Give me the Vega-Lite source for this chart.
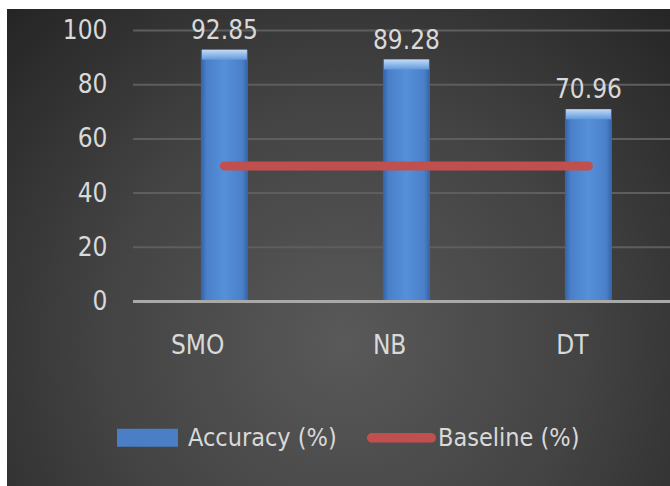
{
  "$schema": "https://vega.github.io/schema/vega-lite/v6.json",
  "autosize": {"type": "none"},
  "width": 672,
  "height": 477,
  "padding": {"left": 7, "top": 9, "right": 0, "bottom": 0},
  "background": "white",
  "config": {
    "view": {
      "stroke": null,
      "fill": {
        "gradient": "radial",
        "x1": 0.5, "y1": 0.64, "r1": 0,
        "x2": 0.5, "y2": 0.64, "r2": 0.72,
        "stops": [
          {"offset": 0, "color": "#595959"},
          {"offset": 0.5, "color": "#434343"},
          {"offset": 1, "color": "#232323"}
        ]
      }
    },
    "font": "DejaVu Sans Condensed, sans-serif",
    "axis": {"labelFont": "DejaVu Sans Condensed, sans-serif", "labelLimit": 0},
    "legend": {"labelFont": "DejaVu Sans Condensed, sans-serif", "labelLimit": 0}
  },
  "datasets": {
    "models": [
      {"model": "SMO", "accuracy": 92.85, "baseline": 50},
      {"model": "NB", "accuracy": 89.28, "baseline": 50},
      {"model": "DT", "accuracy": 70.96, "baseline": 50}
    ],
    "grid": [{"v": 20}, {"v": 40}, {"v": 60}, {"v": 80}, {"v": 100}]
  },
  "layer": [
    {
      "data": {"name": "grid"},
      "mark": {"type": "rule", "color": "#5e5e5e", "strokeWidth": 2},
      "encoding": {
        "x": {"datum": "SMO", "type": "nominal", "bandPosition": -1.445, "title": null,
              "scale": {"domain": ["SMO", "NB", "DT"], "paddingInner": 0.742, "paddingOuter": 0.717, "align": 0.743}},
        "x2": {"datum": "DT", "bandPosition": 2.6},
        "y": {"field": "v", "type": "quantitative", "title": null,
              "scale": {"domain": [-68.08, 107.93], "nice": false, "zero": false},
              "axis": {"offset": -126, "labelPadding": 26, "domain": false, "ticks": false, "grid": false,
                       "values": [0, 20, 40, 60, 80, 100], "labelFontSize": 26, "labelColor": "#d9d9d9", "title": null}}
      }
    },
    {
      "data": {"name": "models"},
      "mark": {"type": "bar"},
      "encoding": {
        "x": {"field": "model", "type": "nominal", "title": null, "sort": null,
              "scale": {"domain": ["SMO", "NB", "DT"], "paddingInner": 0.742, "paddingOuter": 0.717, "align": 0.743},
              "axis": {"offset": -141, "labelPadding": 0, "domain": false, "ticks": false, "grid": false,
                       "labelAngle": 0, "labelFontSize": 26, "labelColor": "#d9d9d9", "title": null}},
        "y": {"field": "accuracy", "type": "quantitative", "title": null,
              "scale": {"domain": [-68.08, 107.93], "nice": false, "zero": false}},
        "y2": {"datum": 0},
        "color": {
          "datum": "Accuracy (%)", "type": "nominal",
          "scale": {"domain": ["Accuracy (%)", "Baseline (%)"], "range": ["#4a7ec5", "#c0504d"]},
          "legend": {
            "orient": "none", "legendX": 110, "legendY": 394, "direction": "horizontal", "title": null,
            "padding": 0, "symbolSize": 4761, "labelFontSize": 25, "labelColor": "#d9d9d9",
            "labelOffset": 2, "columnPadding": 30, "labelLimit": 0,
            "encode": {
              "symbols": {
                "update": {
                  "shape": {"signal": "datum.value === 'Accuracy (%)' ? 'M-1,-0.26H0.768V0.26H-1Z' : 'M-0.86,-0.14H0.86A0.14,0.14 0 0 1 0.86,0.14H-0.86A0.14,0.14 0 0 1 -0.86,-0.14Z'"},
                  "fill": {"scale": "color", "field": "value"},
                  "strokeWidth": {"value": 0},
                  "opacity": {"value": 1},
                  "fillOpacity": {"value": 1}
                }
              }
            }
          }
        }
      }
    },
    {
      "data": {"name": "models"},
      "mark": {
        "type": "bar",
        "fill": {
          "gradient": "linear", "x1": 0, "y1": 0, "x2": 1, "y2": 0,
          "stops": [
            {"offset": 0, "color": "#3462a5"},
            {"offset": 0.12, "color": "#4a80c9"},
            {"offset": 0.5, "color": "#5590d8"},
            {"offset": 0.88, "color": "#4a80c9"},
            {"offset": 1, "color": "#3462a5"}
          ]
        }
      },
      "encoding": {
        "x": {"field": "model", "type": "nominal", "title": null, "sort": null,
              "scale": {"domain": ["SMO", "NB", "DT"], "paddingInner": 0.742, "paddingOuter": 0.717, "align": 0.743}},
        "y": {"field": "accuracy", "type": "quantitative", "title": null,
              "scale": {"domain": [-68.08, 107.93], "nice": false, "zero": false}},
        "y2": {"datum": 0}
      }
    },
    {
      "data": {"name": "models"},
      "mark": {
        "type": "tick", "size": 45, "thickness": 10, "yOffset": 5,
        "color": {
          "gradient": "linear", "x1": 0, "y1": 0, "x2": 0, "y2": 1,
          "stops": [
            {"offset": 0, "color": "#c2dbf7"},
            {"offset": 1, "color": "#5f98dc"}
          ]
        },
        "opacity": 1
      },
      "encoding": {
        "x": {"field": "model", "type": "nominal", "title": null, "sort": null,
              "scale": {"domain": ["SMO", "NB", "DT"], "paddingInner": 0.742, "paddingOuter": 0.717, "align": 0.743}},
        "y": {"field": "accuracy", "type": "quantitative", "title": null,
              "scale": {"domain": [-68.08, 107.93], "nice": false, "zero": false}}
      }
    },
    {
      "data": {"name": "models"},
      "mark": {"type": "rule", "color": "#a9a9a9", "strokeWidth": 3},
      "encoding": {
        "x": {"datum": "SMO", "type": "nominal", "bandPosition": -1.445, "title": null},
        "x2": {"datum": "DT", "bandPosition": 2.6},
        "y": {"datum": 0, "type": "quantitative", "title": null}
      }
    },
    {
      "data": {"name": "models"},
      "mark": {"type": "line", "strokeWidth": 9, "strokeCap": "round"},
      "encoding": {
        "x": {"field": "model", "type": "nominal", "title": null, "sort": null},
        "y": {"field": "baseline", "type": "quantitative", "title": null},
        "color": {"datum": "Baseline (%)", "type": "nominal"}
      }
    },
    {
      "data": {"name": "models"},
      "mark": {"type": "text", "fontSize": 26, "color": "#d9d9d9", "baseline": "alphabetic", "dy": -11},
      "encoding": {
        "x": {"field": "model", "type": "nominal", "title": null, "sort": null},
        "y": {"field": "accuracy", "type": "quantitative", "title": null},
        "text": {"field": "accuracy", "type": "quantitative", "format": ".2f"}
      }
    }
  ]
}
